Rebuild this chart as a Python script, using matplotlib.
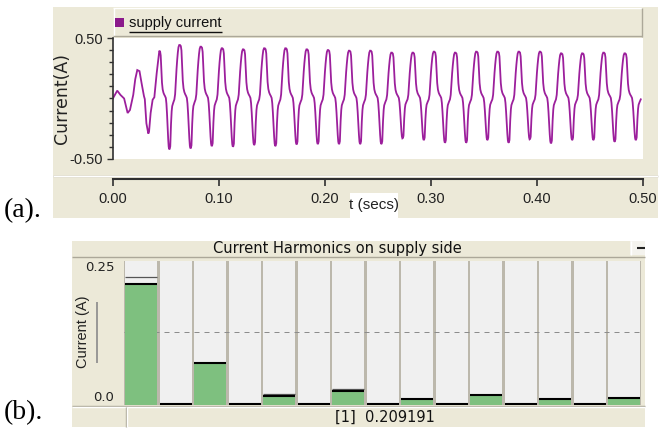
import matplotlib
matplotlib.use('Agg')
import matplotlib.pyplot as plt
from matplotlib.patches import Rectangle
from matplotlib.lines import Line2D
from matplotlib.ticker import MultipleLocator
from matplotlib import font_manager
import numpy as np

# ---------------- data: (a) supply current ----------------
# start-up transient, read vertex by vertex
t_transient = [0.000, 0.004, 0.007, 0.0105, 0.0138, 0.0160, 0.0191, 0.0210, 0.0229,
               0.0250, 0.0270, 0.0292, 0.0300, 0.0315, 0.0333, 0.0340, 0.0355,
               0.0374, 0.0390, 0.0412]
i_transient = [0.002, 0.065, 0.030, 0.000, -0.120, -0.095, 0.030, 0.160, 0.235,
               0.226, 0.125, 0.020, -0.005, -0.205, -0.290, -0.275, -0.120,
               -0.010, 0.010, 0.208]
# successive positive peaks and negative troughs of the trace
peak_values = [0.395, 0.442, 0.428, 0.415, 0.406, 0.415, 0.415, 0.406, 0.400,
               0.395, 0.395, 0.379, 0.379, 0.387, 0.379, 0.387, 0.387, 0.387,
               0.387, 0.373, 0.373, 0.379, 0.373]
trough_values = [-0.420, -0.412, -0.393, -0.398, -0.384, -0.393, -0.379, -0.376,
                 -0.376, -0.376, -0.376, -0.329, -0.343, -0.365, -0.365, -0.343,
                 -0.365, -0.337, -0.370, -0.343, -0.343, -0.357, -0.343]
first_peak_time = 0.0437
first_trough_time = 0.0530
second_peak_time = 0.0632
cycle_period = 0.0200
# shape of one steady-state half cycle
fall_phase = [0.00, 0.08, 0.14, 0.20, 0.27, 0.34, 0.42, 0.50, 0.58, 0.66, 0.72, 0.78, 0.84, 0.90, 0.95, 1.00]
fall_shape = [1.00, 0.98, 0.90, 0.62, 0.33, 0.19, 0.12, 0.08, 0.05, 0.01, -0.10, -0.30, -0.55, -0.80, -0.95, -1.00]
rise_phase = [0.00, 0.05, 0.10, 0.17, 0.23, 0.28, 0.38, 0.48, 0.55, 0.62, 0.68, 0.74, 0.80, 0.86, 0.93, 1.00]
rise_shape = [-1.00, -0.99, -0.94, -0.50, -0.25, -0.15, -0.08, -0.02, 0.08, 0.33, 0.55, 0.72, 0.86, 0.96, 1.00, 1.00]
tail_phase_end = 0.50

xticks_a = [0.0, 0.1, 0.2, 0.3, 0.4, 0.5]
xticklabels_a = ['0.00', '0.10', '0.20', '0.30', '0.40', '0.50']
yticks_a = [-0.5, 0.5]
yticklabels_a = ['-0.50', '0.50']
legend_a = 'supply current'

# ---------------- data: (b) harmonics ----------------
harmonic_order = list(range(1, 16))
harmonic_values = [0.209191, 0.0, 0.0716, 0.0, 0.0137, 0.0, 0.0225, 0.0, 0.0073, 0.0, 0.0149, 0.0, 0.0073, 0.0, 0.0090]
harmonic_max = [0.2214, 0.0, 0.0716, 0.0, 0.0167, 0.0, 0.0249, 0.0, 0.0073, 0.0, 0.0149, 0.0, 0.0073, 0.0, 0.0090]
yticks_b = [0.0, 0.25]
yticklabels_b = ['0.0', '0.25']
title_b = 'Current Harmonics on supply side'

# ---------------- build trace ----------------
ext_t = [first_peak_time]
ext_v = [peak_values[0]]
for k in range(len(trough_values)):
    ext_t.append(first_trough_time + k * cycle_period)
    ext_v.append(trough_values[k])
    if k + 1 < len(peak_values):
        ext_t.append(second_peak_time + k * cycle_period)
        ext_v.append(peak_values[k + 1])

T = list(t_transient)
I = list(i_transient)
fp, fs = np.array(fall_phase), np.array(fall_shape)
rp, rs = np.array(rise_phase), np.array(rise_shape)
for a in range(len(ext_t) - 1):
    ta, tb, va, vb = ext_t[a], ext_t[a + 1], ext_v[a], ext_v[a + 1]
    if va > 0:
        mag = np.where(fs >= 0, abs(va), abs(vb))
        vals = fs * mag
        ph = fp
    else:
        mag = np.where(rs < 0, abs(va), abs(vb))
        vals = rs * mag
        ph = rp
    seg_t = ta + ph * (tb - ta)
    start = 0 if a == 0 else 1
    T.extend(seg_t[start:].tolist())
    I.extend(vals[start:].tolist())
# last partial rise
ta = ext_t[-1]
half = second_peak_time - first_trough_time
sel = rp <= tail_phase_end
mag = np.where(rs < 0, abs(ext_v[-1]), peak_values[-1])
T.extend((ta + rp[sel][1:] * half).tolist())
I.extend((rs * mag)[sel][1:].tolist())

# ---------------- figure ----------------
W, H = 660, 436
fig = plt.figure(figsize=(W / 100, H / 100), dpi=100)
fig.patch.set_facecolor('white')

names = {f.name for f in font_manager.fontManager.ttflist}
if 'Liberation Sans Narrow' in names:
    NARROW, NSIZE = 'Liberation Sans Narrow', 12
else:
    NARROW, NSIZE = 'Liberation Sans', 10.5

BEIGE = '#ECE9D8'
SHADOW = '#ACA899'
PURPLE = '#9C1F9C'


def rect(x0, y0, x1, y1):
    return [x0 / W, 1 - y1 / H, (x1 - x0) / W, (y1 - y0) / H]


def fbox(x0, y0, x1, y1, color, z=-5):
    r = Rectangle((x0 / W, 1 - y1 / H), (x1 - x0) / W, (y1 - y0) / H,
                  transform=fig.transFigure, facecolor=color, edgecolor='none', zorder=z)
    fig.add_artist(r)


def fline(x0, y0, x1, y1, color, lw=1.0, z=-4):
    fig.add_artist(Line2D([x0 / W, x1 / W], [1 - y0 / H, 1 - y1 / H], transform=fig.transFigure,
                          color=color, lw=lw, zorder=z, solid_capstyle='butt'))


# ---- panel (a) chrome ----
fbox(53, 7, 658, 218, BEIGE)
fbox(113, 8, 642, 37, BEIGE, z=-4)
fline(113, 8.5, 642, 8.5, 'white')
fline(113.5, 8, 113.5, 37, 'white')
fline(113, 36.5, 642, 36.5, SHADOW)
fline(641.5, 8, 641.5, 37, SHADOW)
fline(53, 175.5, 658, 175.5, SHADOW)
fline(53, 176.5, 658, 176.5, 'white')

# legend
fbox(115, 18, 124, 27, '#8B1A8B', z=3)
leg = fig.text(129 / W, 1 - 23 / H, legend_a, family=NARROW, fontsize=NSIZE,
               ha='left', va='center', color='#111111')

# waveform axes
ax1 = fig.add_axes(rect(113, 38, 643, 159))
ax1.set_facecolor('white')
ax1.plot(T, I, color=PURPLE, lw=1.3, solid_joinstyle='miter')
ax1.set_xlim(0, 0.5)
ax1.set_ylim(-0.5, 0.5)
for s in ['top', 'right', 'bottom']:
    ax1.spines[s].set_visible(False)
ax1.spines['left'].set_color('#303030')
ax1.spines['left'].set_linewidth(1.2)
ax1.set_xticks([])
ax1.set_yticks(yticks_a)
ax1.set_yticklabels(yticklabels_a, family=NARROW, fontsize=NSIZE, color='#222222')
ax1.yaxis.set_minor_locator(MultipleLocator(0.1))
ax1.tick_params(axis='y', which='major', length=4, width=1, color='#303030', pad=3)
ax1.tick_params(axis='y', which='minor', length=3, width=1, color='#303030')
fig.text(62 / W, 1 - 98.5 / H, 'Current(A)', rotation=90, ha='center', va='center',
         family='DejaVu Sans', fontsize=12.5, color='#222222')

# x axis
axx = fig.add_axes(rect(113, 178, 643, 179))
axx.patch.set_visible(False)
for s in ['top', 'right', 'left']:
    axx.spines[s].set_visible(False)
axx.spines['bottom'].set_color('#303030')
axx.spines['bottom'].set_linewidth(1.5)
axx.set_xlim(0, 0.5)
axx.set_yticks([])
axx.set_xticks(xticks_a)
axx.set_xticklabels(xticklabels_a, family=NARROW, fontsize=NSIZE, color='#222222')
axx.tick_params(axis='x', length=5, width=1.2, color='#303030', pad=4.5, direction='out')

fbox(350, 193, 398, 220, 'white', z=5)
fig.text(374 / W, 1 - 205 / H, 't (secs)', ha='center', va='center', family=NARROW,
         fontsize=NSIZE + 0.5, color='#222222', zorder=6)

fig.text(4 / W, 1 - 211 / H, '(a).', ha='left', va='center', family='Liberation Serif',
         fontsize=20, color='black')

# ---- panel (b) chrome ----
fbox(72, 241, 645, 427, BEIGE)
fline(72, 256.5, 645, 256.5, SHADOW)
fbox(630, 241, 645, 255, '#F4F3EE', z=-4)
fline(630.5, 241, 630.5, 255, 'white')
fline(637, 248, 645, 248, '#222222', lw=1.5)
fig.text(337 / W, 1 - 248.5 / H, title_b, ha='center', va='center', family='DejaVu Sans',
         fontsize=10.5, color='#111111')
fline(72, 405.5, 645, 405.5, SHADOW)
fline(72, 406.5, 645, 406.5, 'white')
fline(125.5, 407, 125.5, 427, SHADOW)
fline(126.5, 407, 126.5, 427, 'white')
fig.text(385 / W, 1 - 417 / H, '[1]  %.6f' % harmonic_values[0], ha='center', va='center',
         family='DejaVu Sans', fontsize=10.5, color='#111111')
fig.text(4 / W, 1 - 413 / H, '(b).', ha='left', va='center', family='Liberation Serif',
         fontsize=20, color='black')
fig.text(83 / W, 1 - 331.5 / H, 'Current (A)', rotation=90, ha='center', va='center',
         family='Liberation Sans', fontsize=10.5, color='#222222')
fline(96.5, 302, 96.5, 363, '#8A8A8A', lw=1.2)

ax2 = fig.add_axes(rect(124.2, 261, 641.3, 405))
ax2.set_facecolor('#BCB8AC')
ax2.set_xlim(0.5, 15.5)
ax2.set_ylim(-0.0025, 0.25)
w = 0.925
order = np.array(harmonic_order)
vals = np.array(harmonic_values)
mx = np.array(harmonic_max)
ax2.bar(order, [0.2525] * len(order), bottom=-0.0025, width=w, color='#F0F0F0', zorder=1)
ax2.axhline(0.125, color='#8C8C8C', lw=0.72, dashes=(5, 5), zorder=2)
ax2.bar(order, vals + 0.0025, bottom=-0.0025, width=w, color='#7EC07F', zorder=3)
sel = mx > vals + 0.001
ax2.hlines(mx[sel], order[sel] - w / 2, order[sel] + w / 2, color='#555555', lw=0.9, zorder=4)
ax2.hlines(vals, order - w / 2, order + w / 2, color='black', lw=1.5, zorder=5)
for s in ax2.spines.values():
    s.set_visible(False)
ax2.set_xticks([])
ax2.set_yticks(yticks_b)
ax2.set_yticklabels(yticklabels_b, family='DejaVu Sans', fontsize=9.5, color='#222222')
ax2.tick_params(axis='y', length=0, pad=7)
ticks = ax2.yaxis.get_major_ticks()
ticks[0].label1.set_va('bottom')
ticks[1].label1.set_va('top')

# underline legend text
fig.canvas.draw()
bb = leg.get_window_extent()
fline(bb.x0, 32.5, bb.x1, 32.5, '#111111', lw=1.0, z=4)

fig.savefig('out.png', dpi=100, facecolor='white')
